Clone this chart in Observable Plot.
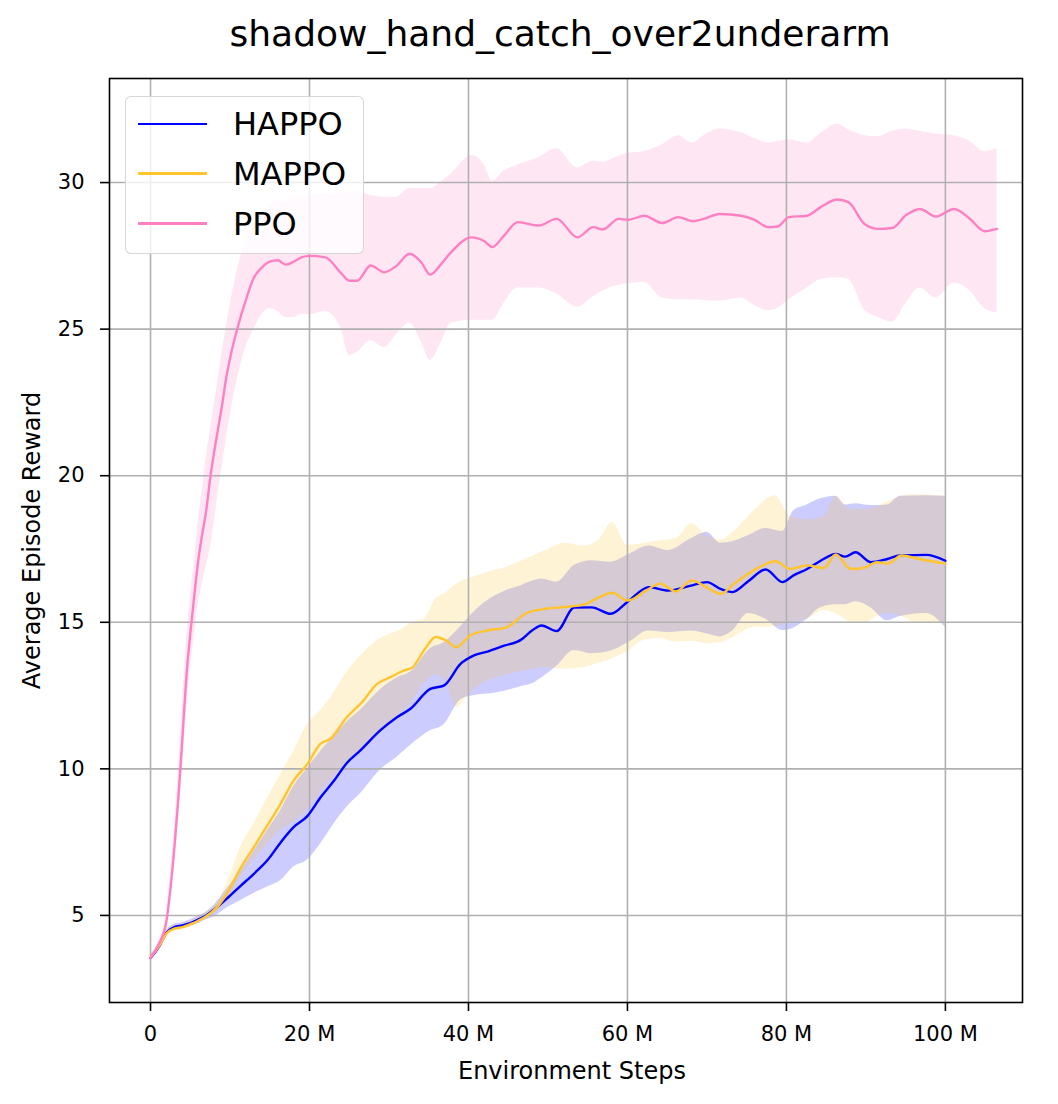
<!DOCTYPE html>
<html><head><meta charset="utf-8">
<script src="https://cdn.jsdelivr.net/npm/d3@7"></script>
<script src="https://cdn.jsdelivr.net/npm/@observablehq/plot@0.6"></script>
<style>
body{margin:0;background:#fff;font-family:"DejaVu Sans",sans-serif;overflow:hidden;}
#wrap{position:relative;width:1058px;height:1104px;}
#legendBox{position:absolute;left:125px;top:96px;width:239px;height:158px;box-sizing:border-box;background:rgba(255,255,255,0.8);border:1.6px solid rgba(204,204,204,0.8);border-radius:6px;}
.sw{position:absolute;left:138px;width:69px;height:2.6px;}
.lb{position:absolute;left:233px;font-size:32px;line-height:32px;height:32px;color:#000;white-space:nowrap;}
</style></head>
<body><div id="wrap"></div>
<script>
const title = "shadow_hand_catch_over2underarm";
const xLabel = "Environment Steps";
const yLabel = "Average Episode Reward";
const xTicks = [0, 20, 40, 60, 80, 100];
const yTicks = [5, 10, 15, 20, 25, 30];
const seriesNames = ["HAPPO", "MAPPO", "PPO"];
const seriesColors = ["#0000ff", "#ffc42e", "#ff80c2"];

// HAPPO (x in millions of steps)
const happoX = [0,1,2,3,4,5,6,7,8,9.6,11.3,13,14.7,16.4,18,19.7,21.4,23.1,24.7,26.4,28.9,31,32.7,35.2,36.9,39,40.7,42.4,44.5,46.6,48,49.2,51.1,53.3,55.5,57.9,60.1,62.7,65.1,68,70,71.7,73.2,75.2,77.4,79.5,80.9,82.6,84.3,86.2,87.4,88.7,90.6,92.7,94.3,97.6,100];
const happoMean = [3.55,3.9,4.4,4.6,4.66,4.74,4.86,5.0,5.2,5.57,6.0,6.42,6.88,7.5,8.01,8.38,9.03,9.6,10.2,10.63,11.31,11.76,12.05,12.73,12.84,13.58,13.87,14.0,14.2,14.4,14.72,14.89,14.7,15.5,15.51,15.29,15.72,16.2,16.08,16.25,16.37,16.14,16.03,16.4,16.8,16.37,16.6,16.82,17.1,17.33,17.24,17.39,17.05,17.16,17.28,17.3,17.1];
const happoLo = [3.45,3.8,4.3,4.5,4.55,4.62,4.72,4.85,4.95,5.25,5.5,5.75,5.97,6.19,6.65,6.88,7.44,8.13,8.69,9.15,9.95,10.4,10.8,11.3,11.5,12.35,12.5,12.55,12.65,12.8,12.9,13.1,13.5,14.04,13.93,14.02,14.3,14.7,14.65,14.7,14.6,14.5,14.7,15.3,15.1,14.72,14.8,15.1,15.5,15.6,15.6,15.7,15.5,15.05,15.2,15.3,14.83];
const happoHi = [3.65,4.0,4.5,4.7,4.76,4.85,4.98,5.12,5.35,5.9,6.5,7.2,7.9,8.6,9.4,10.0,10.6,11.1,11.6,12.0,12.7,13.1,13.3,14.1,14.3,14.85,15.35,15.74,16.05,16.25,16.4,16.48,16.37,16.94,17.1,17.05,17.3,17.6,17.45,17.85,18.07,17.7,17.75,17.95,18.2,18.1,18.8,19.0,19.21,19.3,19.0,19.04,18.98,19.0,19.3,19.32,19.3];

// MAPPO
const mappoX = [0,1,2,3,4,5,6,7,8.2,9.6,11.3,13,14.7,16.35,18,19.7,21.4,22.6,24.7,26.6,28.5,30.2,31.9,32.9,34.4,35.9,37.1,38.5,40.2,42.4,44.8,47.2,49.7,52.1,54.5,56.4,58.1,60,62.2,64.1,66.1,68.1,69.9,71.7,73.4,75.9,78.6,80.5,82.6,84.7,86.2,88.1,89.7,91.4,92.7,94.5,96.7,100];
const mappoMean = [3.58,3.92,4.38,4.55,4.6,4.7,4.82,4.97,5.23,5.74,6.6,7.33,8.07,8.8,9.6,10.15,10.86,11.02,11.76,12.27,12.9,13.13,13.36,13.45,14.04,14.5,14.39,14.15,14.55,14.72,14.83,15.3,15.46,15.52,15.6,15.85,16.01,15.74,16.05,16.32,16.05,16.43,16.2,15.97,16.31,16.77,17.08,16.82,16.94,16.85,17.31,16.82,16.85,17.05,17.0,17.28,17.16,17.0];
const mappoLo = [3.48,3.82,4.28,4.45,4.5,4.6,4.72,4.87,5.1,5.5,6.3,6.9,7.4,7.9,8.2,8.6,9.2,9.6,10.2,10.7,11.2,11.6,12.0,12.3,12.9,13.2,13.0,12.1,12.6,13.0,13.2,13.35,13.45,13.4,13.45,13.6,13.75,14.0,14.4,14.45,14.32,14.35,14.27,14.3,14.5,14.83,14.85,15.0,15.1,15.4,15.3,15.0,14.95,15.2,15.3,15.2,14.95,15.0];
const mappoHi = [3.68,4.02,4.48,4.65,4.7,4.8,4.95,5.1,5.4,6.07,7.3,8.13,9.0,9.8,10.6,11.5,12.0,12.4,13.3,13.9,14.38,14.6,14.8,15.0,15.1,15.8,16.0,16.3,16.5,16.71,16.88,17.15,17.45,17.7,17.6,17.8,18.4,17.62,17.7,17.78,17.85,18.36,17.96,17.8,18.1,18.8,19.32,18.6,18.5,18.6,19.3,18.85,18.85,18.93,19.1,19.3,19.35,19.3];

// PPO
const ppoX = [0,1,2,2.5,3,3.5,4,4.5,5,5.5,6,6.5,7,7.5,8,8.5,9,9.5,10,11,12,13,14,15,16,17,18,19,20,22,24,25,26,27.7,29.4,30.9,32.6,34,35.2,36.5,37.8,40.4,42,43,44.5,46.2,48.8,51.1,53.7,55.7,56.9,58.9,60.1,62.1,64.4,66.4,68.2,69.6,71.6,74.3,76,77.7,78.9,80.3,82.6,84.4,86.4,87.8,89.9,91.6,93.3,95.1,96.8,98.8,101.1,103.1,104.9,106.5];
const ppoMean = [3.55,4.0,4.8,5.9,7.3,9.0,11.0,13.1,14.6,15.9,17.1,18.0,18.8,19.9,20.8,21.6,22.4,23.3,24.0,25.1,26.0,26.75,27.1,27.3,27.35,27.2,27.3,27.45,27.5,27.45,26.9,26.65,26.65,27.17,26.94,27.15,27.57,27.3,26.86,27.2,27.62,28.13,28.0,27.8,28.2,28.65,28.53,28.76,28.13,28.48,28.4,28.76,28.73,28.87,28.62,28.82,28.68,28.76,28.93,28.87,28.73,28.48,28.5,28.82,28.87,29.18,29.42,29.33,28.57,28.42,28.45,28.9,29.1,28.84,29.1,28.76,28.34,28.42];
const ppoLo = [3.45,3.9,4.55,5.5,6.7,8.2,10.0,11.9,13.4,14.5,15.6,16.3,16.9,17.5,18.4,19.4,20.3,21.2,22.0,23.4,24.4,25.0,25.5,25.7,25.6,25.4,25.4,25.5,25.5,25.6,25.0,24.1,24.2,24.6,24.37,24.8,25.2,24.6,23.93,24.5,25.2,25.3,25.3,25.3,25.9,26.4,26.4,26.2,25.75,26.1,26.3,26.5,26.55,26.6,26.06,26.0,26.0,25.98,25.95,26.06,25.8,25.63,25.7,26.0,26.4,26.7,26.75,26.7,25.63,25.4,25.24,25.9,26.4,26.06,26.57,26.3,25.7,25.55];
const ppoHi = [3.65,4.1,5.05,6.4,8.0,9.9,12.1,14.3,15.8,17.1,18.4,19.5,20.6,21.5,22.4,23.3,24.2,25.0,25.8,27.1,28.0,28.6,29.0,29.2,29.35,29.35,29.45,29.5,29.55,29.6,29.6,29.65,29.7,29.55,29.5,29.5,29.8,29.8,29.8,30.0,30.28,30.92,30.6,30.04,30.4,30.6,30.85,31.15,30.5,30.73,30.7,30.9,31.0,31.05,31.3,31.6,31.35,31.6,31.83,31.7,31.5,31.35,31.4,31.46,31.35,31.7,32.0,31.8,31.6,31.57,31.75,31.83,31.75,31.66,31.6,31.4,31.05,31.15];

function table(xs, mean, lo, hi) {
  return xs.map((x, i) => ({x, mean: mean[i], lo: lo[i], hi: hi[i]}));
}
const happo = table(happoX, happoMean, happoLo, happoHi);
const mappo = table(mappoX, mappoMean, mappoLo, mappoHi);
const ppo = table(ppoX, ppoMean, ppoLo, ppoHi);
const sets = [happo, mappo, ppo];

const curve = "monotone-x";
const gridStyle = {stroke: "#b0b0b0", strokeOpacity: 1, strokeWidth: 1.6};

const chart = Plot.plot({
  width: 1058,
  height: 1104,
  marginLeft: 109,
  marginRight: 36,
  marginTop: 78,
  marginBottom: 102,
  style: {fontFamily: "DejaVu Sans", background: "white", color: "black", overflow: "visible"},
  x: {domain: [-5.16, 109.7], label: null},
  y: {domain: [2.03, 33.55], label: null},
  marks: [
    ...sets.map((d, i) => Plot.areaY(d, {x: "x", y1: "lo", y2: "hi", fill: seriesColors[i], fillOpacity: 0.2, curve})),
    Plot.gridX(xTicks, gridStyle),
    Plot.gridY(yTicks, gridStyle),
    ...sets.map((d, i) => Plot.lineY(d, {x: "x", y: "mean", stroke: seriesColors[i], strokeWidth: 2.4, curve})),
    Plot.frame({stroke: "black", strokeWidth: 1.6}),
    Plot.axisX({ticks: xTicks, tickFormat: d => d === 0 ? "0" : `${d} M`, tickSize: 9, tickPadding: 15, fontSize: 21, strokeWidth: 1.6, label: null}),
    Plot.axisY({ticks: yTicks, tickFormat: d => `${d}`, tickSize: 9, tickPadding: 16, fontSize: 21, strokeWidth: 1.6, label: null}),
    Plot.text([xLabel], {text: d => d, frameAnchor: "bottom", dy: 59, dx: 6, lineAnchor: "top", textAnchor: "middle", fontSize: 24, fill: "black"}),
    Plot.text([yLabel], {text: d => d, frameAnchor: "left", dx: -77, rotate: -90, textAnchor: "middle", lineAnchor: "middle", fontSize: 24, fill: "black"}),
    Plot.text([title], {text: d => d, frameAnchor: "top", dy: -58, dx: -6, lineAnchor: "top", textAnchor: "middle", fontSize: 36, fill: "black"})
  ]
});

const wrap = document.getElementById("wrap");
wrap.appendChild(chart);
chart.style.position = "absolute";
chart.style.left = "0px";
chart.style.top = "0px";

const box = document.createElement("div");
box.id = "legendBox";
wrap.appendChild(box);
const rowY = [124, 173.7, 223.3];
seriesNames.forEach((name, i) => {
  const sw = document.createElement("div");
  sw.className = "sw";
  sw.style.top = (rowY[i] - 1.3) + "px";
  sw.style.background = seriesColors[i];
  wrap.appendChild(sw);
  const lb = document.createElement("div");
  lb.className = "lb";
  lb.style.top = (rowY[i] - 15.6) + "px";
  lb.textContent = name;
  wrap.appendChild(lb);
});
</script></body></html>
